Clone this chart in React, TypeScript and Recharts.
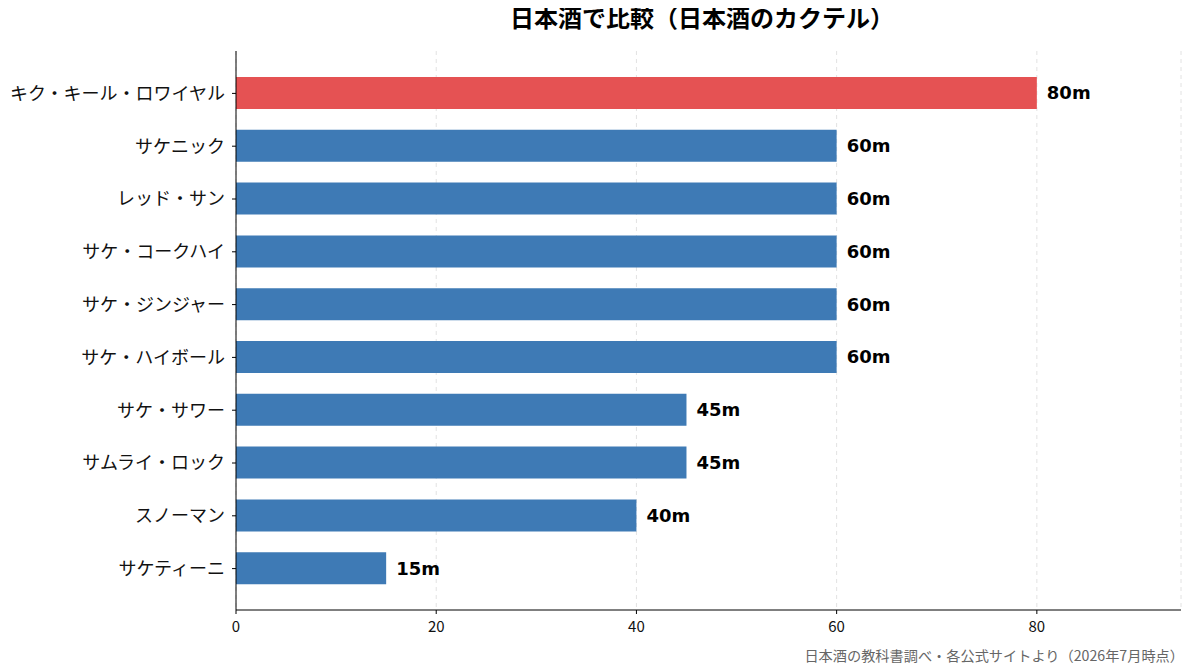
import React from 'react';
import { BarChart, Bar, XAxis, YAxis, CartesianGrid, LabelList, Cell } from 'recharts';

const cocktails = [
  'キク・キール・ロワイヤル',
  'サケニック',
  'レッド・サン',
  'サケ・コークハイ',
  'サケ・ジンジャー',
  'サケ・ハイボール',
  'サケ・サワー',
  'サムライ・ロック',
  'スノーマン',
  'サケティーニ',
];
const volumes = [80, 60, 60, 60, 60, 60, 45, 45, 40, 15];
const xTicks = [0, 20, 40, 60, 80];

const FONT = '"Noto Sans CJK JP", "Noto Sans", sans-serif';
const NUM_FONT = '"DejaVu Sans", sans-serif';
const RED = '#E55253';
const BLUE = '#3E7AB5';

const data = cocktails.map((name, i) => ({ name, volume: volumes[i] }));

const App: React.FC = () => {
  return (
    <div style={{ position: 'relative', width: 1185, height: 664, fontFamily: FONT, background: '#fff' }}>
      <div
        style={{
          position: 'absolute',
          left: 222,
          width: 944,
          top: -9,
          textAlign: 'center',
          fontSize: 24,
          fontWeight: 700,
          color: '#000',
        }}
      >
        日本酒で比較（日本酒のカクテル）
      </div>
      <BarChart
        width={1185}
        height={664}
        data={data}
        layout="vertical"
        margin={{ top: 43, right: 12, bottom: 32, left: 0 }}
      >
        <CartesianGrid horizontal={false} strokeDasharray="4 4" stroke="#e2e2e2" />
        <XAxis
          type="number"
          domain={[0, 94.4]}
          ticks={xTicks}
          allowDataOverflow
          stroke="#000"
          tickSize={4}
          tickMargin={7}
          tick={{ fill: '#111', fontSize: 15, fontFamily: FONT }}
          height={30}
        />
        <YAxis
          type="category"
          dataKey="name"
          width={228}
          stroke="#000"
          tickSize={4}
          tickMargin={7}
          padding={{ top: 16, bottom: 15 }}
          interval={0}
          tick={{ fill: '#111', fontSize: 18, fontFamily: FONT }}
        />
        <Bar dataKey="volume" barSize={32} isAnimationActive={false}>
          {data.map((d, i) => (
            <Cell key={d.name} fill={i === 0 ? RED : BLUE} />
          ))}
          <LabelList
            dataKey="volume"
            position="right"
            offset={10}
            formatter={(v: number) => `${v}m`}
            style={{ fill: '#000', fontSize: 18, fontWeight: 700, fontFamily: NUM_FONT }}
          />
        </Bar>
      </BarChart>
      <div
        style={{
          position: 'absolute',
          right: 9,
          top: 637,
          fontSize: 14.2,
          color: '#666',
        }}
      >
        日本酒の教科書調べ・各公式サイトより（2026年7月時点）
      </div>
    </div>
  );
};

export default App;
